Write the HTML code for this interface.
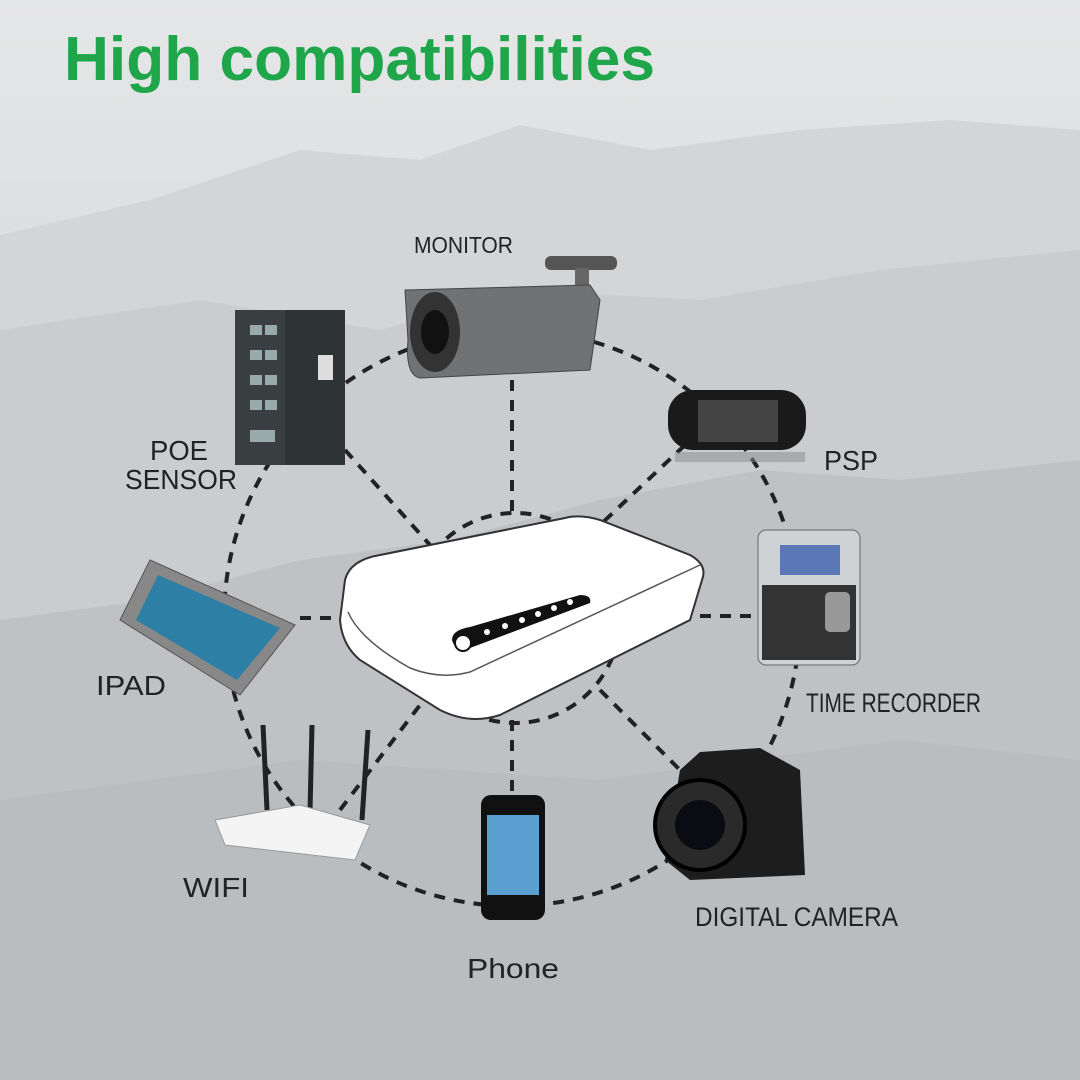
<!DOCTYPE html>
<html><head><meta charset="utf-8"><style>
html,body{margin:0;padding:0;width:1080px;height:1080px;overflow:hidden}
</style></head><body>
<svg width="1080" height="1080" viewBox="0 0 1080 1080" xmlns="http://www.w3.org/2000/svg">
<defs>
<linearGradient id="bg" x1="0" y1="0" x2="0" y2="1">
<stop offset="0" stop-color="#e6e7e8"/><stop offset="1" stop-color="#bfc1c3"/>
</linearGradient>
</defs>
<rect width="1080" height="1080" fill="url(#bg)"/>
<path d="M0 235 L150 200 L300 150 L420 160 L520 125 L650 150 L800 130 L950 120 L1080 130 L1080 1080 L0 1080Z" fill="#d3d5d7"/>
<path d="M0 330 L200 300 L380 330 L520 290 L700 300 L880 270 L1080 250 L1080 1080 L0 1080Z" fill="#cacccf"/>
<path d="M0 620 L150 600 L300 560 L450 540 L600 500 L760 470 L900 480 L1080 460 L1080 1080 L0 1080Z" fill="#bfc1c4"/>
<path d="M0 800 L300 760 L600 780 L900 740 L1080 760 L1080 1080 L0 1080Z" fill="#b8babd" opacity=".6"/>
<text x="64" y="80" font-family="Liberation Sans, sans-serif" font-weight="bold" font-size="62" fill="#1fa54a" textLength="591" lengthAdjust="spacingAndGlyphs">High compatibilities</text>
<g fill="none" stroke="#222" stroke-width="4" stroke-dasharray="11 9">
<circle cx="512" cy="618" r="288"/>
<circle cx="515" cy="618" r="105"/>
<line x1="512" y1="380" x2="512" y2="515"/>
<line x1="345" y1="450" x2="430" y2="545"/>
<line x1="685" y1="445" x2="600" y2="525"/>
<line x1="300" y1="618" x2="345" y2="618"/>
<line x1="700" y1="616" x2="755" y2="616"/>
<line x1="340" y1="810" x2="420" y2="705"/>
<line x1="512" y1="720" x2="512" y2="795"/>
<line x1="600" y1="690" x2="680" y2="770"/>
</g>
<!-- router -->
<path d="M345 580 Q350 560 380 555 L565 518 Q580 514 600 520 L690 555 Q708 565 702 580 L690 620 L500 715 Q470 725 440 710 L360 660 Q342 645 340 620Z" fill="#fff" stroke="#333" stroke-width="2"/>
<path d="M348 612 Q360 640 410 668 Q440 680 470 672 L700 565" fill="none" stroke="#555" stroke-width="1.5"/>
<path d="M452 640 Q452 630 470 627 L580 595 Q592 595 590 603 L470 648 Q455 652 452 640Z" fill="#111"/>
<circle cx="463" cy="643" r="8" fill="#fff" stroke="#111" stroke-width="2"/>
<g fill="#fff"><circle cx="487" cy="632" r="3"/><circle cx="505" cy="626" r="3"/><circle cx="522" cy="620" r="3"/><circle cx="538" cy="614" r="3"/><circle cx="554" cy="608" r="3"/><circle cx="570" cy="602" r="3"/></g>
<!-- monitor camera -->
<rect x="545" y="256" width="72" height="14" rx="6" fill="#555"/>
<rect x="575" y="268" width="14" height="40" fill="#666"/>
<path d="M405 290 L590 285 L600 300 L590 370 L420 378 Q405 375 408 340Z" fill="#707274" stroke="#444"/>
<ellipse cx="435" cy="332" rx="25" ry="40" fill="#333"/>
<ellipse cx="435" cy="332" rx="14" ry="22" fill="#111"/>
<text x="414" y="253" font-family="Liberation Sans, sans-serif" font-size="23" fill="#222" textLength="99" lengthAdjust="spacingAndGlyphs">MONITOR</text>
<!-- poe switch -->
<rect x="235" y="310" width="110" height="155" fill="#2e3436"/>
<rect x="235" y="310" width="50" height="155" fill="#3a3f42"/>
<g fill="#9aa">
<rect x="250" y="325" width="12" height="10"/><rect x="265" y="325" width="12" height="10"/>
<rect x="250" y="350" width="12" height="10"/><rect x="265" y="350" width="12" height="10"/>
<rect x="250" y="375" width="12" height="10"/><rect x="265" y="375" width="12" height="10"/>
<rect x="250" y="400" width="12" height="10"/><rect x="265" y="400" width="12" height="10"/>
<rect x="250" y="430" width="25" height="12"/>
</g>
<rect x="318" y="355" width="15" height="25" fill="#ddd"/>
<text x="150" y="460" font-family="Liberation Sans, sans-serif" font-size="28" fill="#222" textLength="58" lengthAdjust="spacingAndGlyphs">POE</text>
<text x="125" y="489" font-family="Liberation Sans, sans-serif" font-size="28" fill="#222" textLength="112" lengthAdjust="spacingAndGlyphs">SENSOR</text>
<!-- PSP -->
<rect x="668" y="390" width="138" height="60" rx="25" fill="#1a1a1a"/>
<rect x="698" y="400" width="80" height="42" fill="#444"/>
<rect x="675" y="452" width="130" height="10" fill="#888" opacity=".5"/>
<text x="824" y="470" font-family="Liberation Sans, sans-serif" font-size="28" fill="#222" textLength="54" lengthAdjust="spacingAndGlyphs">PSP</text>
<!-- time recorder -->
<rect x="758" y="530" width="102" height="135" rx="8" fill="#cfd2d4" stroke="#666"/>
<rect x="780" y="545" width="60" height="30" fill="#5a78b5"/>
<rect x="762" y="585" width="94" height="75" fill="#333"/>
<rect x="825" y="592" width="25" height="40" rx="5" fill="#999"/>
<text x="806" y="712" font-family="Liberation Sans, sans-serif" font-size="27" fill="#222" textLength="175" lengthAdjust="spacingAndGlyphs">TIME RECORDER</text>
<!-- iPad -->
<path d="M150 560 L295 625 L240 695 L120 620Z" fill="#888" stroke="#555"/>
<path d="M158 575 L280 628 L237 680 L136 620Z" fill="#2e7fa6"/>
<text x="96" y="695" font-family="Liberation Sans, sans-serif" font-size="28" fill="#222" textLength="70" lengthAdjust="spacingAndGlyphs">IPAD</text>
<!-- wifi -->
<g stroke="#222" stroke-width="5"><line x1="263" y1="725" x2="267" y2="810"/><line x1="312" y1="725" x2="310" y2="812"/><line x1="368" y1="730" x2="362" y2="820"/></g>
<path d="M215 820 L300 805 L370 825 L355 860 L225 845Z" fill="#f4f4f4" stroke="#999"/>
<text x="183" y="897" font-family="Liberation Sans, sans-serif" font-size="28" fill="#222" textLength="66" lengthAdjust="spacingAndGlyphs">WIFI</text>
<!-- phone -->
<rect x="481" y="795" width="64" height="125" rx="10" fill="#111"/>
<rect x="487" y="815" width="52" height="80" fill="#5aa0d0"/>
<text x="467" y="978" font-family="Liberation Sans, sans-serif" font-size="28" fill="#222" textLength="92" lengthAdjust="spacingAndGlyphs">Phone</text>
<!-- camera -->
<path d="M680 770 L700 752 L760 748 L800 770 L805 875 L690 880 L665 860Z" fill="#1d1d1d"/>
<circle cx="700" cy="825" r="45" fill="#2a2a2a" stroke="#000" stroke-width="4"/>
<circle cx="700" cy="825" r="25" fill="#0b0b14"/>
<text x="695" y="926" font-family="Liberation Sans, sans-serif" font-size="27" fill="#222" textLength="203" lengthAdjust="spacingAndGlyphs">DIGITAL CAMERA</text>
</svg>
</body></html>
